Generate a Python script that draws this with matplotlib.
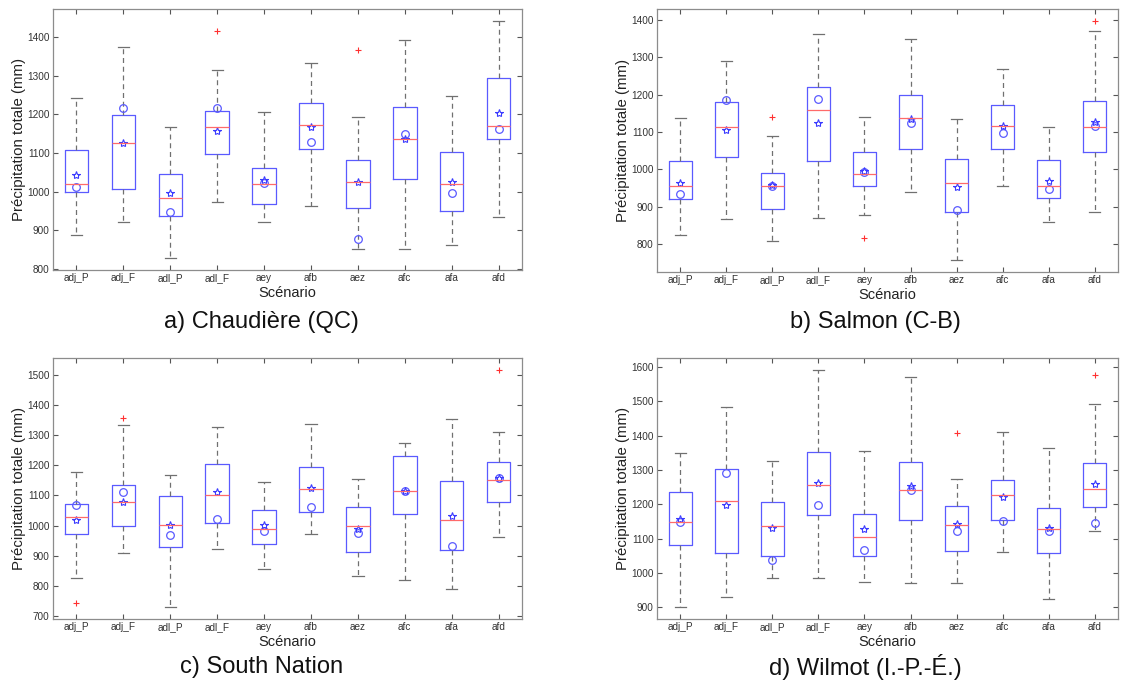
import matplotlib
matplotlib.use("Agg")
import matplotlib.pyplot as plt

plt.rcParams["font.family"] = ["Liberation Sans", "DejaVu Sans"]

scenarios = ["adj_P", "adj_F", "adl_P", "adl_F", "aey", "afb", "aez", "afc", "afa", "afd"]

# a) Chaudière (QC)
chau_lo = [889, 921, 830, 974, 923, 964, 851, 853, 863, 936]
chau_q1 = [1000, 1008, 938, 1097, 969, 1111, 957, 1034, 950, 1135]
chau_med = [1021, 1125, 983, 1166, 1021, 1172, 1026, 1136, 1019, 1171]
chau_q3 = [1107, 1198, 1047, 1208, 1062, 1229, 1083, 1218, 1102, 1295]
chau_hi = [1242, 1374, 1167, 1315, 1205, 1332, 1192, 1392, 1247, 1441]
chau_star = [1044, 1127, 996, 1156, 1030, 1167, 1025, 1135, 1024, 1204]
chau_circ = [1012, 1215, 948, 1217, 1022, 1129, 877, 1149, 997, 1163]
chau_out = [[], [], [], [1415], [], [], [1365], [], [], []]

# b) Salmon (C-B)
salm_lo = [825, 866, 807, 870, 878, 938, 758, 956, 859, 887]
salm_q1 = [921, 1032, 894, 1022, 955, 1054, 885, 1054, 922, 1045]
salm_med = [955, 1112, 954, 1158, 988, 1138, 962, 1117, 956, 1112]
salm_q3 = [1022, 1179, 990, 1220, 1046, 1199, 1028, 1171, 1026, 1183]
salm_hi = [1138, 1290, 1090, 1362, 1140, 1348, 1135, 1269, 1112, 1370]
salm_star = [964, 1104, 959, 1125, 995, 1134, 953, 1115, 970, 1126]
salm_circ = [935, 1185, 956, 1188, 994, 1123, 890, 1096, 947, 1115]
salm_out = [[], [], [1140], [], [817], [], [], [], [], [1396]]

# c) South Nation
sn_lo = [828, 911, 731, 923, 855, 972, 834, 821, 791, 961]
sn_q1 = [974, 999, 930, 1010, 939, 1045, 913, 1038, 921, 1080]
sn_med = [1030, 1077, 1002, 1103, 990, 1123, 998, 1115, 1020, 1150]
sn_q3 = [1071, 1136, 1097, 1205, 1051, 1194, 1061, 1229, 1147, 1211]
sn_hi = [1178, 1332, 1167, 1328, 1144, 1335, 1153, 1275, 1353, 1310]
sn_star = [1018, 1080, 1001, 1113, 1001, 1126, 990, 1116, 1031, 1159]
sn_circ = [1070, 1112, 970, 1023, 983, 1063, 976, 1115, 933, 1157]
sn_out = [[743], [1358], [], [], [], [], [], [], [], [1516]]

# d) Wilmot (I.-P.-É.)
wil_lo = [902, 931, 985, 984, 973, 971, 970, 1060, 925, 1121]
wil_q1 = [1082, 1058, 1050, 1169, 1050, 1154, 1065, 1155, 1057, 1192]
wil_med = [1148, 1210, 1136, 1256, 1104, 1241, 1139, 1227, 1128, 1246]
wil_q3 = [1237, 1303, 1206, 1352, 1172, 1322, 1195, 1270, 1188, 1321]
wil_hi = [1348, 1484, 1326, 1591, 1355, 1571, 1274, 1412, 1363, 1492]
wil_star = [1156, 1199, 1132, 1263, 1127, 1253, 1142, 1221, 1130, 1258]
wil_circ = [1148, 1290, 1037, 1197, 1067, 1241, 1122, 1150, 1121, 1147]
wil_out = [[], [], [], [], [], [], [1408], [], [], [1576]]

panels = [
    dict(pos=[0.0473, 0.6053, 0.4184, 0.3816], ylim=(798, 1472), yticks=range(800, 1401, 100),
         lo=chau_lo, q1=chau_q1, med=chau_med, q3=chau_q3, hi=chau_hi,
         star=chau_star, circ=chau_circ, out=chau_out,
         title="a) Chaudière (QC)", tx=0.233, ty=1 - 322 / 684),
    dict(pos=[0.5861, 0.6023, 0.4112, 0.3845], ylim=(725, 1429), yticks=range(800, 1401, 100),
         lo=salm_lo, q1=salm_q1, med=salm_med, q3=salm_q3, hi=salm_hi,
         star=salm_star, circ=salm_circ, out=salm_out,
         title="b) Salmon (C-B)", tx=0.781, ty=1 - 322 / 684),
    dict(pos=[0.0473, 0.0950, 0.4184, 0.3816], ylim=(691, 1555), yticks=range(700, 1501, 100),
         lo=sn_lo, q1=sn_q1, med=sn_med, q3=sn_q3, hi=sn_hi,
         star=sn_star, circ=sn_circ, out=sn_out,
         title="c) South Nation", tx=0.233, ty=1 - 667 / 684),
    dict(pos=[0.5861, 0.0950, 0.4112, 0.3816], ylim=(866, 1626), yticks=range(900, 1601, 100),
         lo=wil_lo, q1=wil_q1, med=wil_med, q3=wil_q3, hi=wil_hi,
         star=wil_star, circ=wil_circ, out=wil_out,
         title="d) Wilmot (I.-P.-É.)", tx=0.772, ty=1 - 667 / 684),
]

box_col = "#5a5aff"
med_col = "#ff6a6a"
whis_col = "#707070"
frame_col = "#8c8c8c"

fig = plt.figure(figsize=(11.21, 6.84), dpi=100)

for p in panels:
    ax = fig.add_axes(p["pos"])
    stats = []
    for i in range(len(scenarios)):
        stats.append(dict(whislo=p["lo"][i], q1=p["q1"][i], med=p["med"][i],
                          q3=p["q3"][i], whishi=p["hi"][i], fliers=p["out"][i]))
    xs = list(range(1, len(scenarios) + 1))
    ax.bxp(stats, positions=xs, widths=0.5, capwidths=0.24, showfliers=True,
           boxprops=dict(color=box_col, linewidth=0.9),
           medianprops=dict(color=med_col, linewidth=0.9),
           whiskerprops=dict(color=whis_col, linewidth=0.9, linestyle=(0, (4, 3))),
           capprops=dict(color=whis_col, linewidth=0.9),
           flierprops=dict(marker="+", markeredgecolor="#ff3030", markersize=4,
                           markeredgewidth=0.8, linestyle="none"))
    ax.plot(xs, p["circ"], "o", markerfacecolor="none", markeredgecolor=box_col,
            markersize=5.5, markeredgewidth=0.9, linestyle="none")
    ax.plot(xs, p["star"], "*", markerfacecolor="none", markeredgecolor="#3a3aff",
            markersize=6, markeredgewidth=0.8, linestyle="none")

    ax.set_xlim(0.5, len(scenarios) + 0.5)
    ax.set_ylim(*p["ylim"])
    ax.set_yticks(list(p["yticks"]))
    ax.set_xticks(xs)
    ax.set_xticklabels(scenarios)
    ax.tick_params(direction="in", length=3.5, width=0.8, color="#555555",
                   labelsize=7.2, labelcolor="#333333", top=True, right=True, pad=2.5)
    ax.tick_params(axis="y", labelright=False)
    for s in ax.spines.values():
        s.set_color(frame_col)
        s.set_linewidth(0.9)
    ax.set_xlabel("Scénario", fontsize=10.5, labelpad=1.5, color="#222222")
    ax.set_ylabel("Précipitation totale (mm)", fontsize=10.8, labelpad=0.5, color="#222222")

    fig.text(p["tx"], p["ty"], p["title"], fontsize=17, ha="center", va="center",
             color="#111111")

fig.savefig("out.png", dpi=100)
